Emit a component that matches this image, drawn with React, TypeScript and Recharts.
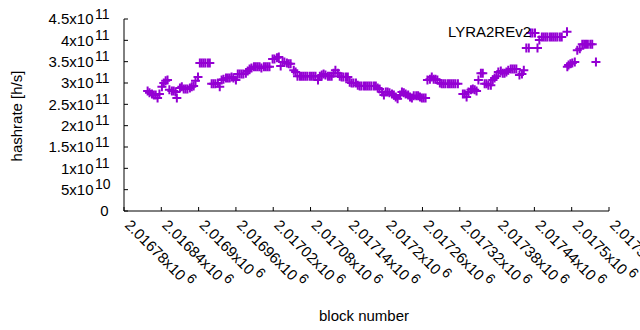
import React from 'react';
import { ScatterChart, Scatter, XAxis, YAxis, Legend } from 'recharts';

// block numbers and hashrate (GH/s)
const blocks = [
  2016818, 2016821, 2016825, 2016828, 2016831, 2016834, 2016837, 2016841, 2016844, 2016847,
  2016850, 2016853, 2016857, 2016860, 2016863, 2016865, 2016870, 2016873, 2016876, 2016879,
  2016882, 2016886, 2016889, 2016892, 2016895, 2016899, 2016902, 2016905, 2016908, 2016911,
  2016915, 2016918, 2016921, 2016924, 2016927, 2016931, 2016934, 2016937, 2016940, 2016944,
  2016947, 2016950, 2016953, 2016956, 2016960, 2016963, 2016966, 2016969, 2016972, 2016976,
  2016979, 2016982, 2016985, 2016989, 2016992, 2016995, 2016998, 2017001, 2017005, 2017008,
  2017011, 2017014, 2017019, 2017022, 2017026, 2017029, 2017032, 2017035, 2017038, 2017042,
  2017045, 2017048, 2017053, 2017056, 2017059, 2017063, 2017066, 2017069, 2017072, 2017075,
  2017079, 2017082, 2017085, 2017088, 2017092, 2017095, 2017098, 2017101, 2017104, 2017108,
  2017111, 2017114, 2017117, 2017120, 2017124, 2017127, 2017130, 2017133, 2017137, 2017140,
  2017143, 2017146, 2017149, 2017153, 2017156, 2017159, 2017162, 2017166, 2017169, 2017172,
  2017175, 2017178, 2017182, 2017185, 2017188, 2017191, 2017195, 2017198, 2017201, 2017204,
  2017207, 2017211, 2017214, 2017217, 2017220, 2017224, 2017227, 2017230, 2017233, 2017237,
  2017240, 2017243, 2017246, 2017250, 2017253, 2017256, 2017259, 2017262, 2017265, 2017268,
  2017272, 2017275, 2017278, 2017281, 2017284, 2017288, 2017291, 2017294, 2017297, 2017301,
  2017304, 2017307, 2017310, 2017313, 2017317, 2017325, 2017328, 2017331, 2017334, 2017338,
  2017341, 2017344, 2017347, 2017350, 2017354, 2017357, 2017360, 2017363, 2017366, 2017370,
  2017373, 2017376, 2017379, 2017382, 2017386, 2017389, 2017392, 2017395, 2017398, 2017402,
  2017405, 2017408, 2017411, 2017416, 2017420, 2017423, 2017427, 2017431, 2017434, 2017437,
  2017441, 2017445, 2017448, 2017452, 2017455, 2017458, 2017461, 2017465, 2017468, 2017471,
  2017474, 2017477, 2017481, 2017484, 2017493, 2017495, 2017498, 2017501, 2017505, 2017509,
  2017513, 2017517, 2017520, 2017523, 2017526, 2017530, 2017533, 2017539,
];

const hashrateGH = [
  281, 277, 274, 272, 272, 265, 274, 291, 300, 305,
  307, 284, 281, 281, 279, 265, 288, 291, 286, 286,
  286, 288, 291, 293, 305, 314, 347, 347, 347, 347,
  347, 347, 298, 298, 298, 300, 291, 307, 309, 312,
  312, 312, 314, 312, 307, 321, 321, 321, 321, 323,
  328, 333, 335, 338, 338, 338, 338, 335, 338, 338,
  338, 338, 356, 356, 359, 361, 340, 349, 349, 347,
  345, 345, 330, 326, 316, 316, 316, 316, 316, 316,
  316, 316, 316, 316, 307, 316, 319, 321, 319, 316,
  316, 316, 323, 330, 323, 316, 314, 314, 314, 314,
  302, 300, 300, 300, 295, 293, 293, 293, 293, 293,
  293, 293, 293, 293, 288, 286, 279, 272, 279, 279,
  277, 274, 272, 267, 263, 272, 279, 277, 274, 272,
  267, 265, 270, 270, 270, 267, 265, 265, 265, 307,
  309, 314, 309, 309, 307, 300, 298, 298, 298, 298,
  298, 298, 298, 298, 298, 274, 274, 267, 279, 284,
  286, 284, 281, 307, 323, 323, 298, 298, 295, 295,
  307, 312, 316, 326, 328, 323, 323, 326, 330, 333,
  333, 333, 333, 319, 321, 330, 382, 382, 417, 417,
  417, 382, 401, 408, 408, 408, 408, 408, 408, 408,
  408, 408, 408, 408, 338, 342, 345, 347, 349, 377,
  380, 391, 391, 391, 391, 391, 391, 349,
];

const xTicks = [
  2016780, 2016840, 2016900, 2016960, 2017020, 2017080, 2017140,
  2017200, 2017260, 2017320, 2017380, 2017440, 2017500, 2017560,
];
const xTickLabels = [
  '2.01678x10^6', '2.01684x10^6', '2.0169x10^6', '2.01696x10^6', '2.01702x10^6',
  '2.01708x10^6', '2.01714x10^6', '2.0172x10^6', '2.01726x10^6', '2.01732x10^6',
  '2.01738x10^6', '2.01744x10^6', '2.0175x10^6', '2.01756x10^6',
];
const yTicks = [0, 5e10, 1e11, 1.5e11, 2e11, 2.5e11, 3e11, 3.5e11, 4e11, 4.5e11];
const yTickLabels = [
  '0', '5x10^10', '1x10^11', '1.5x10^11', '2x10^11',
  '2.5x10^11', '3x10^11', '3.5x10^11', '4x10^11', '4.5x10^11',
];

const seriesName = 'LYRA2REv2';
const PURPLE = '#9400d3';
const FONT = '"Liberation Sans", Arial, sans-serif';

const data = blocks.map((b, i) => ({ block: b, rate: hashrateGH[i] * 1e9 }));

const Plus = (props: any) => {
  const { cx, cy } = props;
  if (cx == null || cy == null) return null;
  return (
    <path
      d={`M${cx - 4.5},${cy}H${cx + 4.5}M${cx},${cy - 4.5}V${cy + 4.5}`}
      stroke={PURPLE}
      strokeWidth={2}
      fill="none"
    />
  );
};

const YTick = (props: any) => {
  const { y, index } = props;
  const [base, sup] = yTickLabels[index].split('^');
  if (!sup) {
    return (
      <text x={108.5} y={y + 5.3} textAnchor="end" fontSize={15} fontFamily={FONT} fill="#000">
        {base}
      </text>
    );
  }
  return (
    <g fontFamily={FONT} fill="#000">
      <text x={93.5} y={y + 5.3} textAnchor="end" fontSize={15}>{base}</text>
      <text x={95} y={y - 0.5} textAnchor="start" fontSize={14}>{sup}</text>
    </g>
  );
};

const XTick = (props: any) => {
  const { x, index } = props;
  const [base, sup] = xTickLabels[index].split('^');
  const ty = 226;
  return (
    <text
      x={x}
      y={ty}
      transform={`rotate(45 ${x} ${ty})`}
      fontSize={15}
      fontFamily={FONT}
      fill="#000"
    >
      {base}
      <tspan dx={3} dy={-6} fontSize={14}>{sup}</tspan>
    </text>
  );
};

const renderLegend = () => (
  <svg width={640} height={60} style={{ position: 'absolute', left: 0, top: 0, overflow: 'visible' }}>
    <text x={531} y={37} textAnchor="end" fontSize={15} fontFamily={FONT} fill="#000">
      {seriesName}
    </text>
    <Plus cx={567} cy={31.7} />
  </svg>
);

export default function App() {
  return (
    <div style={{ position: 'absolute', left: 0, top: 0, width: 640, height: 330, background: '#fff' }}>
      <ScatterChart width={640} height={330} margin={{ top: 19, right: 31, bottom: 0, left: 0 }}>
        <XAxis
          xAxisId="bottom"
          dataKey="block"
          type="number"
          domain={[2016780, 2017560]}
          ticks={xTicks}
          interval={0}
          height={119}
          tickSize={-4}
          axisLine={{ stroke: '#000' }}
          tickLine={{ stroke: '#000' }}
          tick={<XTick />}
          allowDataOverflow
        />
        <XAxis
          xAxisId="top"
          orientation="top"
          dataKey="block"
          type="number"
          domain={[2016780, 2017560]}
          ticks={xTicks}
          interval={0}
          height={0}
          tickSize={-4}
          axisLine={{ stroke: '#000' }}
          tickLine={{ stroke: '#000' }}
          tick={false}
          allowDataOverflow
        />
        <YAxis
          yAxisId="left"
          dataKey="rate"
          type="number"
          domain={[0, 4.5e11]}
          ticks={yTicks}
          interval={0}
          width={124}
          tickSize={-4}
          axisLine={{ stroke: '#000' }}
          tickLine={{ stroke: '#000' }}
          tick={<YTick />}
          allowDataOverflow
        />
        <YAxis
          yAxisId="right"
          orientation="right"
          dataKey="rate"
          type="number"
          domain={[0, 4.5e11]}
          ticks={yTicks}
          interval={0}
          width={0}
          tickSize={-4}
          axisLine={{ stroke: '#000' }}
          tickLine={{ stroke: '#000' }}
          tick={false}
          allowDataOverflow
        />
        <Legend
          content={renderLegend}
          wrapperStyle={{ position: 'absolute', left: 0, top: 0, width: 0, height: 0, overflow: 'visible' }}
        />
        <Scatter
          name={seriesName}
          data={data}
          xAxisId="bottom"
          yAxisId="left"
          shape={<Plus />}
          isAnimationActive={false}
        />
      </ScatterChart>
      <svg
        width={640}
        height={330}
        style={{ position: 'absolute', left: 0, top: 0, pointerEvents: 'none' }}
      >
        <text
          x={22}
          y={116}
          transform="rotate(-90 22 116)"
          textAnchor="middle"
          fontSize={15}
          fontFamily={FONT}
          fill="#000"
        >
          hashrate [h/s]
        </text>
        <text x={364} y={320.7} textAnchor="middle" fontSize={15} fontFamily={FONT} fill="#000">
          block number
        </text>
      </svg>
    </div>
  );
}
